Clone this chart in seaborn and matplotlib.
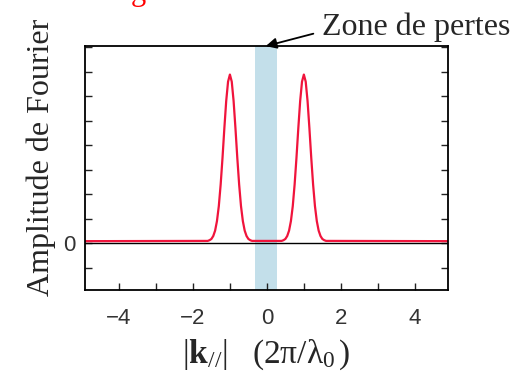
import numpy as np
import pandas as pd
import matplotlib
matplotlib.use('Agg')
import matplotlib.pyplot as plt
from matplotlib.ticker import MultipleLocator, FixedLocator
import seaborn as sns

# values (|k//| in 2pi/lambda0, amplitude in tick units)
k_vals = [-4.92, -1.6, -1.55, -1.5, -1.45, -1.4, -1.35, -1.3, -1.25, -1.2, -1.15, -1.1, -1.05,
          -1.0, -0.95, -0.9, -0.85, -0.8, -0.75, -0.7, -0.65, -0.6, -0.55, -0.5, -0.45, -0.4,
          0.4, 0.45, 0.5, 0.55, 0.6, 0.65, 0.7, 0.75, 0.8, 0.85, 0.9, 0.95,
          1.0, 1.05, 1.1, 1.15, 1.2, 1.25, 1.3, 1.35, 1.4, 1.45, 1.5, 1.55, 1.6, 4.92]
amp_vals = [0.08, 0.09, 0.12, 0.17, 0.29, 0.51, 0.9, 1.51, 2.39, 3.48, 4.69, 5.8, 6.59,
            6.88, 6.59, 5.8, 4.69, 3.48, 2.39, 1.51, 0.9, 0.51, 0.29, 0.17, 0.12, 0.09,
            0.09, 0.12, 0.17, 0.29, 0.51, 0.9, 1.51, 2.39, 3.48, 4.69, 5.8, 6.59,
            6.88, 6.59, 5.8, 4.69, 3.48, 2.39, 1.51, 0.9, 0.51, 0.29, 0.17, 0.12, 0.09, 0.08]
loss_zone = (-0.32, 0.28)
x_ticks = [-4, -2, 0, 2, 4]
y_label_ticks = [0]

df = pd.DataFrame({'k': k_vals, 'amp': amp_vals})

sns.set_style('ticks')
plt.rcParams['font.family'] = ['Liberation Sans', 'DejaVu Sans']
plt.rcParams['mathtext.fontset'] = 'custom'
plt.rcParams['mathtext.rm'] = 'Liberation Serif'
plt.rcParams['mathtext.it'] = 'Liberation Serif:italic'
plt.rcParams['mathtext.bf'] = 'Liberation Serif:bold'

fig = plt.figure(figsize=(5.18, 3.72), dpi=100)
ax = fig.add_axes([0.164, 0.220, 0.701, 0.656])

ax.axvspan(*loss_zone, color='#c3dfea', zorder=0, lw=0)
ax.axhline(0, color='black', lw=1.0, zorder=1)
sns.lineplot(data=df, x='k', y='amp', ax=ax, color='#f0143c', lw=1.6, zorder=2,
             sort=False, estimator=None)

ax.set_xlim(-4.92, 4.9)
ax.set_ylim(-1.92, 8.04)
ax.xaxis.set_major_locator(FixedLocator(x_ticks))
ax.xaxis.set_minor_locator(MultipleLocator(1))
ax.yaxis.set_major_locator(FixedLocator(y_label_ticks))
ax.yaxis.set_minor_locator(MultipleLocator(1))
ax.tick_params(which='both', direction='in', length=5, width=1, color='#222222',
               right=True, top=False)
ax.tick_params(which='major', labelsize=16, labelcolor='#333333')
ax.tick_params(axis='x', which='major', pad=13)
ax.tick_params(axis='y', which='major', pad=7)
for s in ax.spines.values():
    s.set_visible(True)
    s.set_linewidth(1.3)
    s.set_color('black')

serif = ['Liberation Serif', 'DejaVu Serif']
ax.set_ylabel('Amplitude de Fourier', family=serif, fontsize=23)
ax.yaxis.set_label_coords(-0.08, 0.543)
ax.set_xlabel(r'$\mathrm{|}\mathbf{k}_{\mathrm{//}}\mathrm{|\quad (2π/λ_0\,)}$', fontsize=24)
ax.xaxis.set_label_coords(0.5, -0.195)

ax.annotate('Zone de pertes', xy=(-0.03, 8.04), xycoords='data',
            xytext=(322 / 518, 1 - 27 / 372), textcoords='figure fraction',
            ha='left', va='center', fontsize=23, family=serif, annotation_clip=False,
            arrowprops=dict(arrowstyle='-|>', color='black', lw=1.3, mutation_scale=16,
                            relpos=(0, 0.35), shrinkA=4, shrinkB=0))

# cut-off red title at the very top
fig.text(0.267, 1.0, 'g', color='red', fontsize=22, family=serif, ha='center', va='baseline')

fig.savefig('out.png', dpi=100)
